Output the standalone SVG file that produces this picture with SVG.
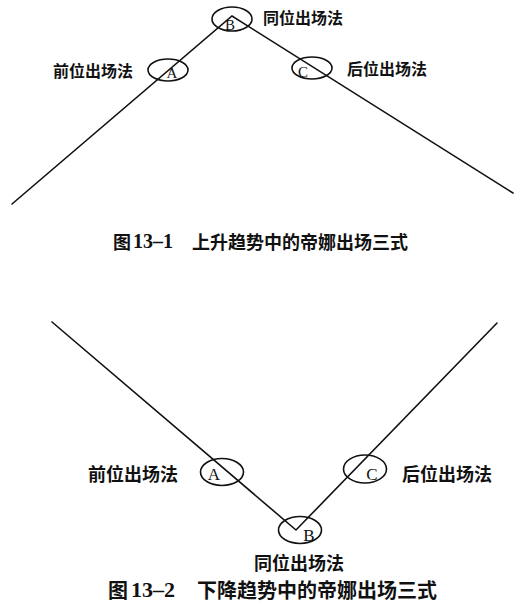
<svg xmlns="http://www.w3.org/2000/svg" width="520" height="605" viewBox="0 0 520 605">
<style>
.ln{fill:none;stroke:#111;stroke-width:1.6;stroke-linecap:round;stroke-linejoin:miter}
.el{fill:none;stroke:#111;stroke-width:1.6}
.let{font-family:"Liberation Serif","Times New Roman",serif;fill:#111;text-anchor:middle}
.lab{font-family:"Noto Sans CJK SC","Noto Sans",sans-serif;font-weight:bold;fill:#111;dominant-baseline:central}
.cap{font-family:"Noto Sans CJK SC","Noto Sans",sans-serif;font-weight:bold;fill:#111;dominant-baseline:central}
.num{font-family:"Liberation Serif","Times New Roman",serif;font-weight:bold}
</style>
<rect width="520" height="605" fill="#fff"/>
<g id="connectors">
<polyline class="ln" points="12,204 232,16 513,193"/>
<polyline class="ln" points="52,322 296,530 497,323"/>
</g>
<g id="top-A">
<ellipse class="el" cx="168" cy="70" rx="20" ry="11"/>
<text class="let" x="172" y="78" font-size="15">A</text>
<text class="lab" x="53" y="70" font-size="16">前位出场法</text>
</g>
<g id="top-B">
<ellipse class="el" cx="232" cy="19" rx="20" ry="12"/>
<text class="let" x="230" y="30" font-size="15">B</text>
<text class="lab" x="263" y="17" font-size="16">同位出场法</text>
</g>
<g id="top-C">
<ellipse class="el" cx="312" cy="68" rx="20" ry="11"/>
<text class="let" x="303" y="77" font-size="15">C</text>
<text class="lab" x="347" y="68" font-size="16">后位出场法</text>
</g>
<g id="caption-1">
<text class="cap" y="241" font-size="18"><tspan x="113">图</tspan><tspan class="num" x="133" font-size="20">13–1</tspan><tspan x="192">上升趋势中的帝娜出场三式</tspan></text>
</g>
<g id="bot-A">
<ellipse class="el" cx="222" cy="472" rx="21.5" ry="13.5"/>
<text class="let" x="214" y="480" font-size="17">A</text>
<text class="lab" x="88" y="473" font-size="18">前位出场法</text>
</g>
<g id="bot-C">
<ellipse class="el" cx="365" cy="469" rx="21.5" ry="14"/>
<text class="let" x="372" y="480" font-size="17">C</text>
<text class="lab" x="402" y="473" font-size="18">后位出场法</text>
</g>
<g id="bot-B">
<ellipse class="el" cx="300" cy="530" rx="21.5" ry="13.5"/>
<text class="let" x="309" y="541" font-size="17">B</text>
<text class="lab" x="254" y="562" font-size="18">同位出场法</text>
</g>
<g id="caption-2">
<text class="cap" y="589" font-size="20"><tspan x="108">图</tspan><tspan class="num" x="131" font-size="22">13–2</tspan><tspan x="197">下降趋势中的帝娜出场三式</tspan></text>
</g>
</svg>
